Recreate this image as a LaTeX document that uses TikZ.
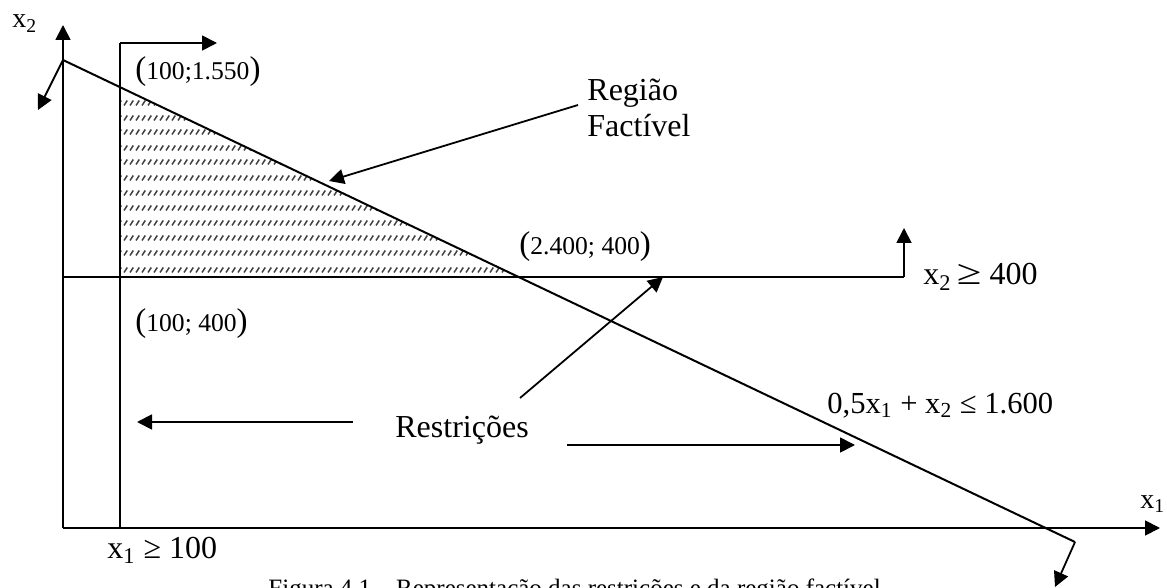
\documentclass[tikz,border=0pt]{standalone}
\usepackage{fontspec}
\setmainfont{Liberation Serif}
\usetikzlibrary{arrows.meta}

% tall parentheses around the corner-point coordinates
\newcommand{\lpar}{{\fontsize{16.5}{18}\selectfont(}}
\newcommand{\rpar}{{\fontsize{16.5}{18}\selectfont)}}
% wide "greater or equal" sign
\newcommand{\wgeq}{\scalebox{1.4}[1.1]{≥}}

\tikzset{
  axisline/.style={line width=1pt},
  arr/.style={line width=0.9pt, -{Triangle[length=7.5pt,width=7.5pt]}},
  hatch/.style={line width=0.75pt, black!75},
  txt/.style={inner sep=0pt, anchor=base west, font=\fontsize{16}{18}\selectfont},
  eqtxt/.style={inner sep=0pt, anchor=base west, font=\fontsize{15.3}{17}\selectfont},
  axtxt/.style={inner sep=0pt, anchor=base west, font=\fontsize{14}{16}\selectfont},
  pttxt/.style={inner sep=0pt, anchor=base west, font=\fontsize{12.8}{15}\selectfont},
  captxt/.style={inner sep=0pt, anchor=base west, font=\fontsize{12.5}{15}\selectfont},
}

\begin{document}
\begin{tikzpicture}[x=0.5pt,y=-0.5pt]
\useasboundingbox (0,0) rectangle (1167,588);

% key points
\coordinate (O)  at (63,528);
\coordinate (Y)  at (63,25);
\coordinate (X)  at (1160,528);
\coordinate (A0) at (120,528);
\coordinate (A1) at (120,43);
\coordinate (A2) at (217,43);
\coordinate (B0) at (63,277);
\coordinate (B1) at (904,277);
\coordinate (B2) at (904,228);
\coordinate (C0) at (63,60);
\coordinate (C1) at (1075,542);
\coordinate (Ca) at (38,110);
\coordinate (Cb) at (1055,587);
\coordinate (P1) at (120,88);
\coordinate (P2) at (120,277);
\coordinate (P3) at (520,277);

% feasible region, hatched
\begin{scope}
  \clip (P1) -- (P2) -- (P3) -- cycle;
  \draw[hatch] \foreach \r in {103,118,132,148,162,178,193,208,223,238,253,270} {
      \foreach \c in {118,124,...,524} { (\c,\r+2.5) -- ++(3.3,-5) } };
\end{scope}

% axes
\draw[arr] (O) -- (Y);
\draw[arr] (O) -- (X);

% x1 >= 100
\draw[axisline] (A0) -- (A1);
\draw[arr] (A1) -- (A2);

% x2 >= 400
\draw[axisline] (B0) -- (B1);
\draw[arr] (B1) -- (B2);

% 0,5x1 + x2 <= 1.600
\draw[axisline] (C0) -- (C1);
\draw[arr] (C0) -- (Ca);
\draw[arr] (C1) -- (Cb);

% axis labels
\node[axtxt] (lx2) at (12,28) {x\textsubscript{2}};
\node[axtxt] (lx1) at (1140,508) {x\textsubscript{1}};

% corner points
\node[pttxt] (p1) at (135,80) {\lpar 100;1.550\rpar};
\node[pttxt] (p2) at (519,255) {\lpar 2.400; 400\rpar};
\node[pttxt] (p3) at (135,331) {\lpar 100; 400\rpar};

% constraint labels
\node[txt] (k1) at (107,558) {x\textsubscript{1} ≥ 100};
\node[txt] (k2) at (923,285) {x\textsubscript{2}\,\wgeq\ 400};
\node[eqtxt] (k3) at (827,413) {0,5x\textsubscript{1} + x\textsubscript{2} ≤ 1.600};

% feasible region callout
\node[txt, align=left] (reg) at (587,137) {Região\\Factível};
\coordinate (R0) at (578,105);
\coordinate (R1) at (329,181);
\draw[arr] (R0) -- (R1);

% constraints callout
\node[txt] (res) at (395,437) {Restrições};
\coordinate (L0) at (353,422);
\coordinate (L1) at (137,422);
\coordinate (D0) at (520,398);
\coordinate (D1) at (663,277);
\coordinate (E0) at (567,445);
\coordinate (E1) at (855,445);
\draw[arr] (L0) -- (L1);
\draw[arr] (D0) -- (D1);
\draw[arr] (E0) -- (E1);

% caption
\node[captxt] (cap) at (268,596) {Figura 4.1 – Representação das restrições e da região factível};
\end{tikzpicture}
\end{document}
